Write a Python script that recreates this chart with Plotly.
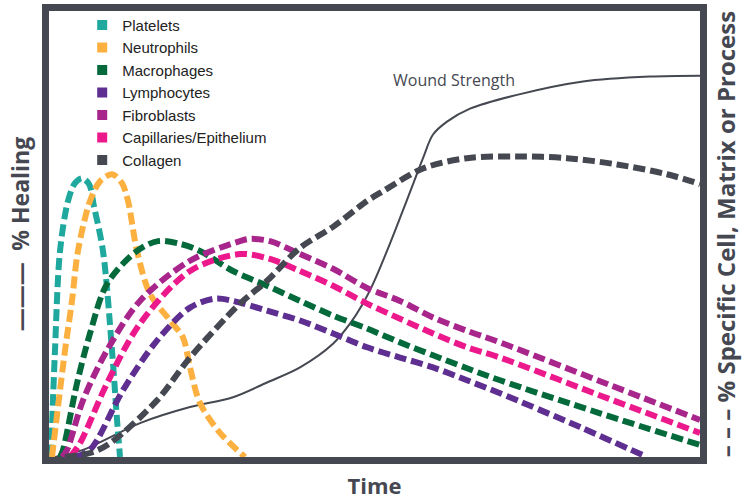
import plotly.graph_objects as go

# ---- data (time 0-100, percent 0-100) ----
platelets_x = [0.31, 0.61, 0.92, 1.69, 2.92, 3.99, 5.07, 6.14, 6.91, 8.29, 9.68, 10.45, 10.91]
platelets_y = [0, 12.7, 23.9, 46.2, 57.4, 61.4, 62.5, 61.2, 56.2, 46.2, 23.9, 8.3, 0]

neutrophils_x = [0.46, 2.46, 3.53, 4.45, 6.30, 7.83, 9.68, 11.21, 12.14, 13.52, 15.51, 18.59, 20.58, 21.66, 23.19, 26.27, 30.11]
neutrophils_y = [0, 23.9, 35.0, 46.2, 57.4, 61.8, 63.4, 61.4, 57.4, 46.2, 36.6, 30.6, 26.8, 20.1, 12.1, 5.4, 0]

macrophages_x = [1.69, 2.15, 4.30, 6.30, 8.91, 13.52, 16.74, 20.12, 23.19, 28.26, 33.49, 38.56, 43.63, 48.85, 53.92, 58.99, 64.21, 69.28, 84.64, 100]
macrophages_y = [0, 1.6, 16.5, 27.7, 38.8, 46.2, 48.4, 47.8, 46.2, 41.7, 38.4, 35.0, 31.7, 28.8, 25.7, 22.8, 19.9, 17.2, 9.8, 2.7]

lymphocytes_x = [3.99, 6.30, 11.37, 16.59, 21.66, 25.50, 28.26, 33.49, 38.56, 43.63, 48.85, 53.92, 58.99, 64.21, 69.28, 81.57, 91.86]
lymphocytes_y = [0, 1.6, 15.0, 26.1, 33.5, 35.5, 35.0, 32.8, 30.6, 27.7, 24.6, 22.3, 20.1, 17.2, 14.3, 6.7, 0]

fibroblasts_x = [2.0, 2.77, 5.22, 8.91, 13.98, 21.66, 29.34, 30.88, 33.95, 38.56, 43.63, 48.85, 53.92, 58.99, 64.21, 69.28, 84.64, 100]
fibroblasts_y = [0, 1.6, 12.7, 23.9, 35.0, 44.0, 48.4, 48.9, 48.4, 45.5, 42.2, 37.9, 35.0, 31.3, 28.3, 25.7, 17.0, 8.3]

capillaries_x = [3.23, 4.76, 8.91, 13.98, 21.66, 29.34, 33.95, 38.56, 43.63, 48.85, 53.92, 58.99, 64.21, 69.28, 84.64, 100]
capillaries_y = [0, 3.1, 16.5, 29.9, 41.7, 45.5, 44.4, 41.7, 38.4, 34.4, 31.0, 27.7, 24.6, 22.3, 13.8, 5.4]

collagen_x = [2.46, 6.30, 9.37, 16.59, 21.66, 29.34, 33.49, 38.56, 43.63, 48.85, 51.31, 57.45, 64.21, 71.89, 79.57, 87.25, 94.93, 100]
collagen_y = [0, 0.9, 3.1, 12.7, 22.3, 34.4, 39.5, 46.9, 51.6, 57.4, 59.6, 64.7, 67.0, 67.4, 67.0, 65.6, 63.4, 61.2]

wound_x = [0.92, 5.22, 13.98, 21.66, 28.26, 33.49, 38.56, 43.63, 46.24, 48.23, 49.77, 51.92, 53.92, 55.92, 57.45, 58.99, 61.14, 64.67, 71.89, 82.03, 92.32, 100]
wound_y = [0, 1.6, 7.6, 11.2, 13.4, 16.7, 20.1, 25.4, 29.9, 34.4, 38.8, 46.2, 53.6, 61.2, 67.0, 72.3, 75.2, 78.1, 81.2, 84.2, 85.3, 85.5]

series_names = ["Platelets", "Neutrophils", "Macrophages", "Lymphocytes", "Fibroblasts",
                "Capillaries/Epithelium", "Collagen"]
series_colors = ["#1fa89d", "#fbb040", "#046a3c", "#5e2e91", "#a8258c", "#ec198c", "#454851"]
series_x = [platelets_x, neutrophils_x, macrophages_x, lymphocytes_x, fibroblasts_x, capillaries_x, collagen_x]
series_y = [platelets_y, neutrophils_y, macrophages_y, lymphocytes_y, fibroblasts_y, capillaries_y, collagen_y]

wound_label = "Wound Strength"
wound_label_pos = (62.2, 84.6)

FRAME = "#454851"
TEXT = "#454851"

fig = go.Figure()

for name, color, xs, ys in zip(series_names, series_colors, series_x, series_y):
    fig.add_trace(go.Scatter(
        x=xs, y=ys, mode="lines", yaxis="y2", name=name, showlegend=False,
        line=dict(color=color, width=6, dash="12px,5px", shape="spline", smoothing=0.9),
        hoverinfo="name",
    ))

fig.add_trace(go.Scatter(
    x=wound_x, y=wound_y, mode="lines", name=wound_label, showlegend=False,
    line=dict(color=FRAME, width=2, shape="spline", smoothing=0.9),
))

# legend entries (square swatches)
for name, color in zip(series_names, series_colors):
    fig.add_trace(go.Scatter(
        x=[None], y=[None], mode="markers", name=name, yaxis="y2",
        marker=dict(symbol="square", size=10, color=color),
    ))

fig.add_annotation(
    x=wound_label_pos[0], y=wound_label_pos[1], xref="x", yref="y",
    text=wound_label, showarrow=False, xanchor="center", yanchor="middle",
    font=dict(family="Open Sans", size=16, color=TEXT),
)

axis_common = dict(range=[0, 100], showgrid=False, zeroline=False, automargin=False,
                   showticklabels=False, ticks="", fixedrange=True)

fig.update_layout(
    width=750, height=500,
    margin=dict(l=49, r=50, t=9, b=43),
    paper_bgcolor="white", plot_bgcolor="white",
    xaxis=dict(**axis_common, showline=True, mirror=True, linewidth=7, linecolor=FRAME,
               title=dict(text="<b>Time</b>", standoff=18,
                          font=dict(family="Open Sans", size=22, color=TEXT))),
    yaxis=dict(**axis_common, showline=True, mirror=True, linewidth=7, linecolor=FRAME,
               title=dict(text="<b>———\u2002% Healing</b>", standoff=8,
                          font=dict(family="Open Sans", size=23, color=TEXT))),
    yaxis2=dict(**axis_common, overlaying="y", side="right", showline=False,
                title=dict(text="<b>– – – % Specific Cell, Matrix or Process</b>", standoff=18,
                           font=dict(family="Open Sans", size=24, color=TEXT))),
    legend=dict(x=0.051, y=1.0051, xanchor="left", yanchor="top",
                bgcolor="rgba(0,0,0,0)", borderwidth=0,
                font=dict(family="Liberation Sans", size=15, color="#222222"),
                itemwidth=30, tracegroupgap=0),
    showlegend=True,
)

fig.write_html("out.html", config={"displayModeBar": False},
               post_script="document.body.style.margin='0px';")
